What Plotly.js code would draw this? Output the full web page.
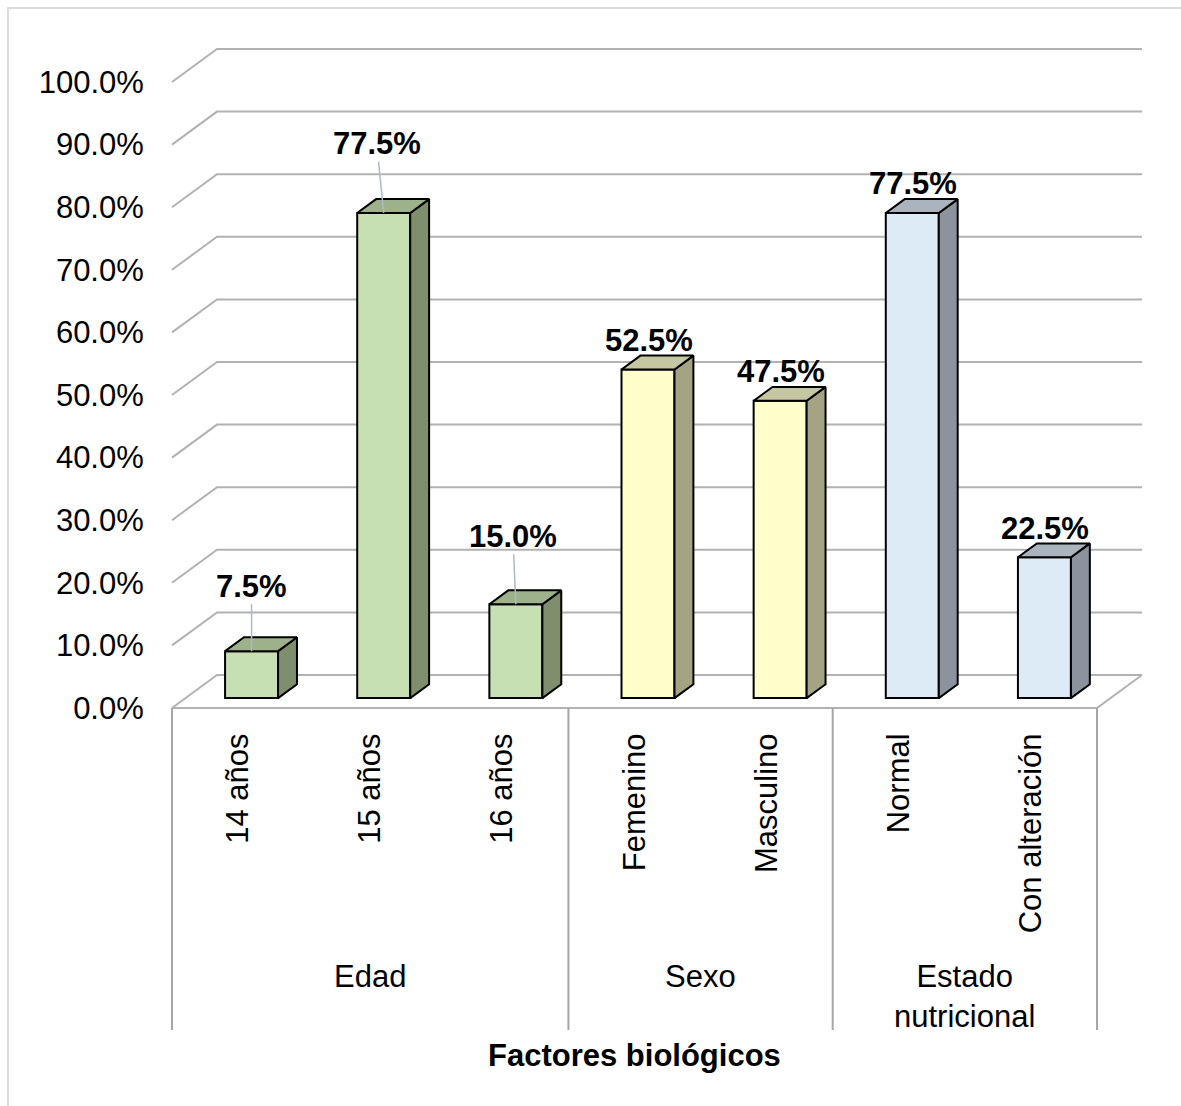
<!DOCTYPE html>
<html>
<head>
<meta charset="utf-8">
<script src="https://cdn.plot.ly/plotly-3.0.1.min.js"></script>
<style>html,body{margin:0;padding:0;background:#fff;}#chart{width:1181px;height:1106px;}</style>
</head>
<body>
<div id="chart"></div>
<script>
// ---- data ----
const categories = ['14 años', '15 años', '16 años', 'Femenino', 'Masculino', 'Normal', 'Con alteración'];
const values = [7.5, 77.5, 15.0, 52.5, 47.5, 77.5, 22.5];
const groupOfCategory = [0, 0, 0, 1, 1, 2, 2];
const groups = ['Edad', 'Sexo', 'Estado<br>nutricional'];
const groupSizes = [3, 2, 2];
const yTicks = [0, 10, 20, 30, 40, 50, 60, 70, 80, 90, 100];
const yTickLabels = ['0.0%', '10.0%', '20.0%', '30.0%', '40.0%', '50.0%', '60.0%', '70.0%', '80.0%', '90.0%', '100.0%'];
const axisTitle = 'Factores biológicos';

// ---- styling ----
const FONT = 'Liberation Sans, Arial, sans-serif';
const FS = 31;
const frontColors = ['#C6E0B4', '#FFFFCC', '#DDEBF7'];
const topColors = ['#9DB18B', '#C6C6A2', '#AAB4BF'];
const sideColors = ['#7F8F6E', '#A4A484', '#8B949E'];
const GRID = '#B2B2B2';

// plot geometry (pixels)
const W_PX = 1181, H_PX = 1106;
const PL = 166, PR = 1144, PT = 30, PB = 712;
const FRONT_LEFT_PX = 172, FRONT_RIGHT_PX = 1097, ZERO_PX = 708, HUNDRED_PX = 82;
const S = (FRONT_RIGHT_PX - FRONT_LEFT_PX) / categories.length; // px per category
const PY = (ZERO_PX - HUNDRED_PX) / 100; // px per percent
const xmin = -0.5 - (FRONT_LEFT_PX - PL) / S;
const xmax = -0.5 + (PR - FRONT_LEFT_PX) / S;
const ymin = -(PB - ZERO_PX) / PY;
const ymax = (ZERO_PX - PT) / PY;
const DX = 45 / S, DY = 33 / PY;   // full floor depth in data units
const F0 = 0.3, F1 = 0.72;          // bar depth fractions
const BW = 53 / S;                  // bar width
const pyToPaper = py => (PB - py) / (PB - PT);
const pxToPaper = px => (px - PL) / (PR - PL);

const idx = categories.map((_, i) => i);
const baseY = F0 * DY;
const shiftX = F0 * DX;
const ddx = (F1 - F0) * DX, ddy = (F1 - F0) * DY;

const traces = [];
// front faces
traces.push({
  type: 'bar', x: idx, y: values, base: baseY,
  width: BW, offset: shiftX - BW / 2,
  marker: { color: groupOfCategory.map(g => frontColors[g]), line: { color: '#000', width: 2 } },
  hoverinfo: 'skip', showlegend: false
});
// side and top faces
idx.forEach(i => {
  const g = groupOfCategory[i];
  const xl = i + shiftX - BW / 2, xr = i + shiftX + BW / 2;
  const yb = baseY, yt = baseY + values[i];
  traces.push({
    type: 'scatter', mode: 'lines', fill: 'toself', fillcolor: sideColors[g],
    x: [xr, xr + ddx, xr + ddx, xr, xr], y: [yb, yb + ddy, yt + ddy, yt, yb],
    line: { color: '#000', width: 2 }, hoverinfo: 'skip', showlegend: false
  });
  traces.push({
    type: 'scatter', mode: 'lines', fill: 'toself', fillcolor: topColors[g],
    x: [xl, xl + ddx, xr + ddx, xr, xl], y: [yt, yt + ddy, yt + ddy, yt, yt],
    line: { color: '#000', width: 2 }, hoverinfo: 'skip', showlegend: false
  });
});

// gridlines (3D style)
const xFrontL = -0.5, xFrontR = categories.length - 0.5;
const shapes = [];
yTicks.forEach(t => {
  shapes.push({
    type: 'path', xref: 'x', yref: 'y', layer: 'below',
    path: `M ${xFrontL},${t} L ${xFrontL + DX},${t + DY} L ${xFrontR + DX},${t + DY}`,
    line: { color: GRID, width: 2 }
  });
});
// floor front edge
shapes.push({
  type: 'path', xref: 'x', yref: 'y', layer: 'below',
  path: `M ${xFrontL},0 L ${xFrontR},0 L ${xFrontR + DX},${DY}`,
  line: { color: GRID, width: 2 }
});
// group separators
let acc = -0.5;
const bounds = [acc];
groupSizes.forEach(n => { acc += n; bounds.push(acc); });
bounds.forEach(b => {
  shapes.push({
    type: 'line', xref: 'x', yref: 'paper', x0: b, x1: b,
    y0: pyToPaper(ZERO_PX), y1: pyToPaper(1030),
    line: { color: '#A6A6A6', width: 2 }
  });
});
// outer border
shapes.push({
  type: 'rect', xref: 'paper', yref: 'paper',
  x0: pxToPaper(8), x1: pxToPaper(1200), y0: pyToPaper(1130), y1: pyToPaper(8),
  line: { color: '#D9DDE3', width: 2 }, fillcolor: 'rgba(0,0,0,0)', layer: 'below'
});

// annotations
const annotations = [];
const leader = [{ ax: 0, ay: -65 }, { ax: -7, ay: -69 }, { ax: -3, ay: -68 }];
idx.forEach(i => {
  const txt = values[i].toFixed(1) + '%';
  const xc = i + shiftX, yt = baseY + values[i];
  if (i < leader.length) {
    annotations.push({
      x: xc, y: yt, xref: 'x', yref: 'y', text: txt,
      showarrow: true, arrowhead: 0, arrowwidth: 1.5, arrowcolor: '#ADB9CA',
      ax: leader[i].ax, ay: leader[i].ay, borderpad: 0, standoff: 0,
      font: { family: FONT, size: FS, color: '#000', weight: 'bold' }
    });
  } else {
    annotations.push({
      x: xc, y: yt, xref: 'x', yref: 'y', text: txt, showarrow: false,
      yanchor: 'middle', yshift: 29, xshift: 1,
      font: { family: FONT, size: FS, color: '#000', weight: 'bold' }
    });
  }
});
let start = 0;
groups.forEach((g, k) => {
  const center = start + (groupSizes[k] - 1) / 2;
  start += groupSizes[k];
  annotations.push({
    x: center, y: pyToPaper(957), xref: 'x', yref: 'paper', text: g,
    showarrow: false, yanchor: 'top', align: 'center',
    font: { family: FONT, size: FS, color: '#000' }
  });
});
annotations.push({
  x: (categories.length - 1) / 2, y: pyToPaper(1055), xref: 'x', yref: 'paper',
  text: '<b>' + axisTitle + '</b>', showarrow: false, yanchor: 'middle',
  font: { family: FONT, size: FS, color: '#000' }
});

const layout = {
  width: W_PX, height: H_PX,
  margin: { l: PL, r: W_PX - PR, t: PT, b: H_PX - PB, pad: 0 },
  paper_bgcolor: '#fff', plot_bgcolor: 'rgba(0,0,0,0)',
  showlegend: false, barmode: 'overlay',
  xaxis: {
    range: [xmin, xmax], tickmode: 'array', tickvals: idx, ticktext: categories, tickangle: -90,
    showgrid: false, zeroline: false, showline: false,
    ticks: 'outside', ticklen: 8, tickcolor: 'rgba(0,0,0,0)',
    tickfont: { family: FONT, size: FS, color: '#000' }, fixedrange: true
  },
  yaxis: {
    range: [ymin, ymax], tickmode: 'array', tickvals: yTicks, ticktext: yTickLabels,
    showgrid: false, zeroline: false, showline: false,
    ticks: 'outside', ticklen: 15, tickcolor: 'rgba(0,0,0,0)',
    tickfont: { family: FONT, size: FS, color: '#000' }, fixedrange: true
  },
  shapes: shapes, annotations: annotations
};

Plotly.newPlot('chart', traces, layout, { staticPlot: true });
</script>
</body>
</html>
